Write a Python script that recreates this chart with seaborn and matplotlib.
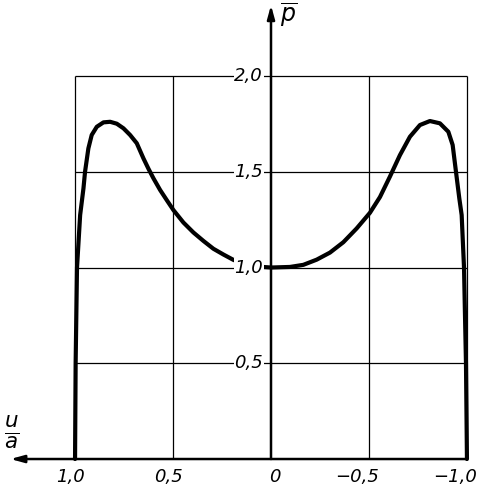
import matplotlib
matplotlib.use("Agg")
import matplotlib.pyplot as plt
import seaborn as sns
import pandas as pd

sns.set_style("white")
plt.rcParams['font.family'] = ['DejaVu Sans']

# ---- data ----
left_x = [1.0, 0.997, 0.99, 0.983, 0.974, 0.957, 0.949, 0.932, 0.915, 0.889, 0.855,
          0.821, 0.787, 0.753, 0.719, 0.685, 0.651, 0.625, 0.600, 0.566, 0.532,
          0.498, 0.447, 0.396, 0.345, 0.294, 0.243, 0.192, 0.14, 0.07, 0.0]
left_p = [0.0, 0.5, 1.0, 1.12, 1.274, 1.414, 1.50, 1.622, 1.692, 1.735, 1.758,
          1.761, 1.751, 1.727, 1.692, 1.649, 1.57, 1.515, 1.466, 1.405, 1.352,
          1.30, 1.235, 1.183, 1.139, 1.098, 1.068, 1.04, 1.02, 1.005, 1.0]
right_x = [0.0, -0.097, -0.165, -0.233, -0.301, -0.369, -0.437, -0.505, -0.556,
           -0.607, -0.658, -0.709, -0.760, -0.811, -0.862, -0.905, -0.927, -0.944,
           -0.961, -0.973, -0.985, -0.995, -1.0]
right_p = [1.0, 1.003, 1.014, 1.041, 1.078, 1.132, 1.204, 1.286, 1.368,
           1.475, 1.587, 1.683, 1.744, 1.765, 1.753, 1.709, 1.64, 1.50,
           1.361, 1.274, 1.0, 0.5, 0.0]

x_ticks = [1.0, 0.5, 0.0, -0.5, -1.0]
x_labels = ["1,0", "0,5", "0", "\u22120,5", "\u22121,0"]
y_ticks = [0.5, 1.0, 1.5, 2.0]
y_labels = ["0,5", "1,0", "1,5", "2,0"]

df = pd.DataFrame({
    "u": left_x + right_x,
    "p": left_p + right_p,
    "branch": ["left"] * len(left_x) + ["right"] * len(right_x),
})

fig = plt.figure(figsize=(4.84, 5.0), dpi=100)
ax = fig.add_axes([0, 0, 1, 1])
XL = (1.383, -1.087)
YL = (-0.214, 2.397)

# grid
for xv in x_ticks:
    if xv == 0.0:
        continue
    ax.vlines(xv, 0, 2.0, color="black", lw=0.9, zorder=1)
for yv in y_ticks:
    ax.hlines(yv, 1.0, -1.0, color="black", lw=0.9, zorder=1)

# main axes with arrows
ax.annotate("", xy=(1.33, 0), xytext=(-1.0, 0),
            arrowprops=dict(arrowstyle="-|>,head_length=0.8,head_width=0.22",
                            color="black", lw=1.8, shrinkA=0, shrinkB=0), zorder=2)
ax.annotate("", xy=(0, 2.37), xytext=(0, 0),
            arrowprops=dict(arrowstyle="-|>,head_length=0.8,head_width=0.22",
                            color="black", lw=1.8, shrinkA=0, shrinkB=0), zorder=2)

sns.lineplot(data=df, x="u", y="p", units="branch", estimator=None, sort=False,
             color="black", lw=3.0, ax=ax, legend=False, zorder=3)
ax.set_xlim(*XL)
ax.set_ylim(*YL)
ax.axis("off")

# tick labels
for xv, lab in zip(x_ticks, x_labels):
    ax.text(xv - 0.05, -0.094, lab, ha="right", va="center", fontsize=13,
            style="italic", color="black")
for yv, lab in zip(y_ticks, y_labels):
    ax.text(0.04, yv, lab, ha="right", va="center", fontsize=13, style="italic",
            color="black", zorder=4,
            bbox=dict(facecolor="white", edgecolor="none", pad=0.5))

ax.text(-0.045, 2.32, r"$\overline{p}$", ha="left", va="center", fontsize=17, color="black")
ax.text(1.325, 0.14, r"$\frac{u}{a}$", ha="center", va="center", fontsize=22, color="black")

fig.savefig("out.png", dpi=100)
